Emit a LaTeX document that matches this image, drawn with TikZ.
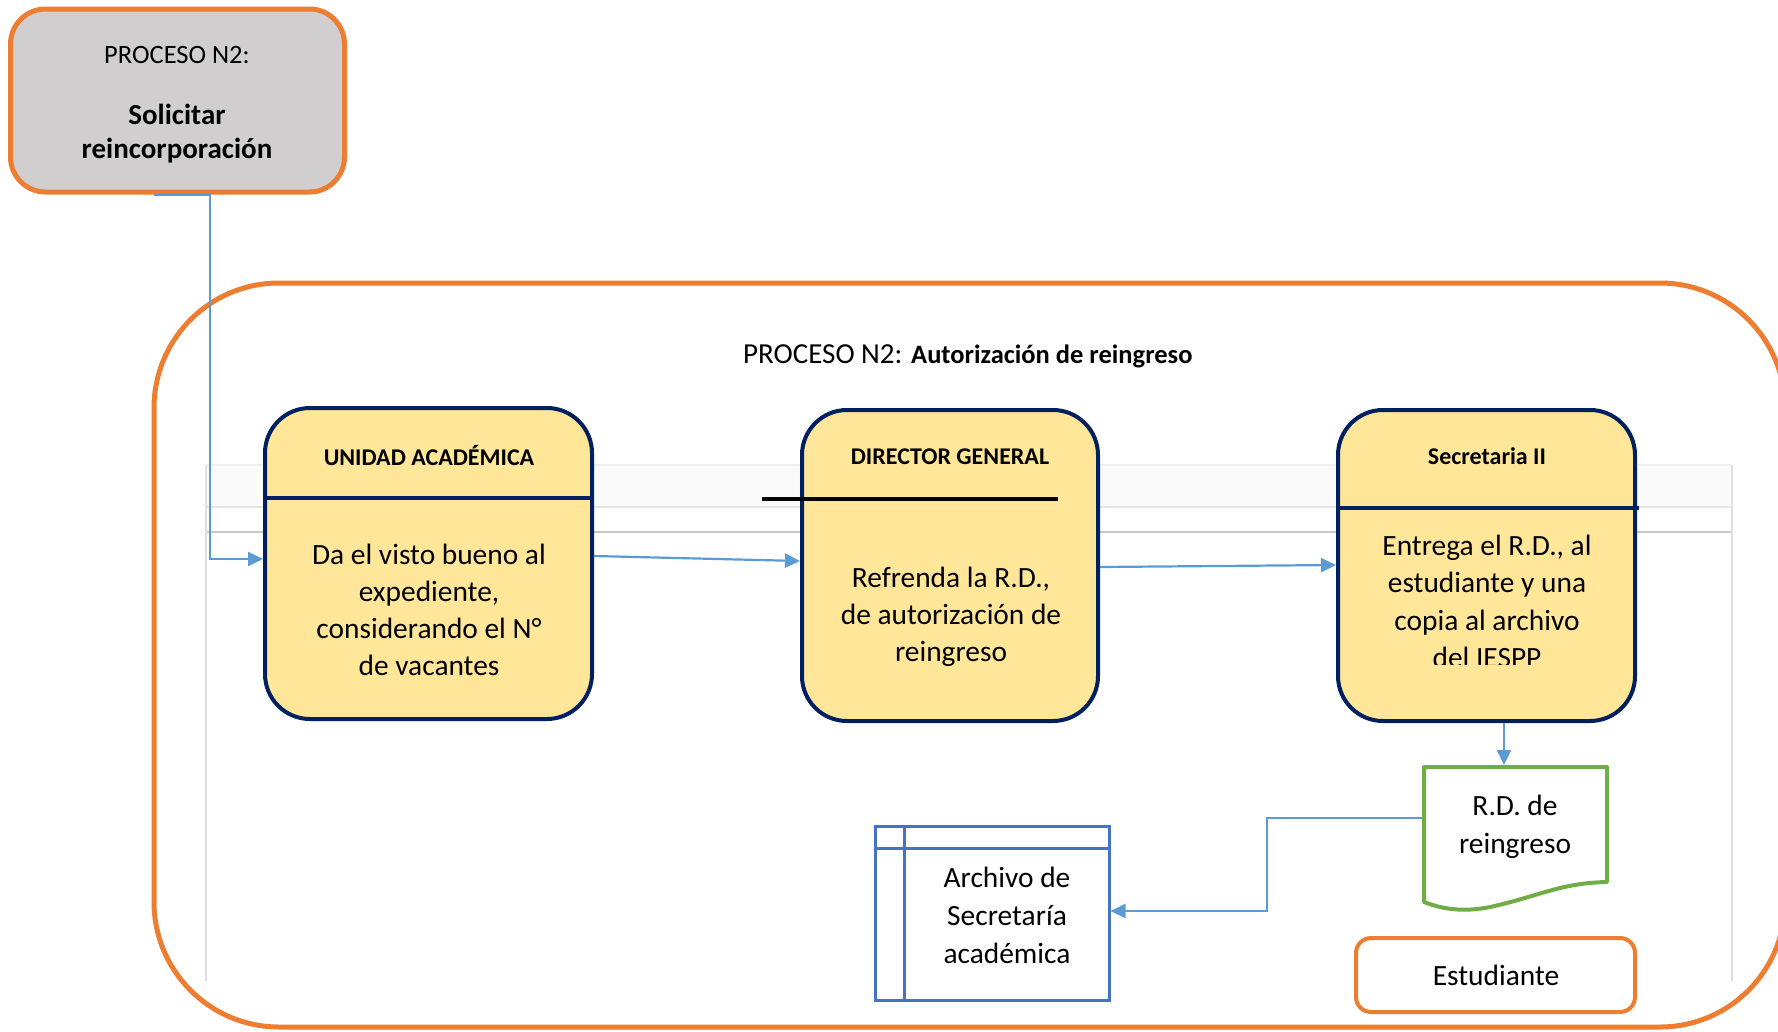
\documentclass[tikz,border=0pt]{standalone}
\usepackage{fontspec}
\setmainfont{Carlito}
\usetikzlibrary{arrows.meta}

\definecolor{procorange}{HTML}{ED7D31}
\definecolor{procgray}{HTML}{D0CECE}
\definecolor{unitfill}{HTML}{FFE699}
\definecolor{unitline}{HTML}{002060}
\definecolor{flowblue}{HTML}{5B9BD5}
\definecolor{storeblue}{HTML}{4472C4}
\definecolor{docgreen}{HTML}{70AD47}

\begin{document}
\begin{tikzpicture}[
  x=1pt, y=-1pt,
  unitbox/.style={draw=unitline, fill=unitfill, line width=4pt, rounded corners=45pt, inner sep=0pt},
  flow/.style={draw=flowblue, line width=2.2pt, -{Triangle[length=15pt,width=14pt]}},
  lane/.style={draw=black!12, line width=1.3pt},
  body/.style={font=\fontsize{29.4}{37}\selectfont, align=center, anchor=base, inner sep=0pt},
  head/.style={font=\bfseries\fontsize{24}{28}\selectfont, anchor=base, inner sep=0pt},
]
\useasboundingbox (0,0) rectangle (1778,1031);

% outer process frame, running past the right edge
\begin{scope}
  \clip (0,0) rectangle (1778,1031);
  \draw[procorange, line width=5pt, rounded corners=125pt] (154,283) rectangle (1785,1027);
\end{scope}

% faint swimlane guides
\fill[black!2] (206,465) rectangle (1732,507);
\draw[lane, draw=black!6] (206,465) -- (1732,465);
\draw[lane, draw=black!10] (206,507) -- (1732,507);
\draw[lane, draw=black!22] (206,532) -- (1732,532);
\draw[lane] (206,465) -- (206,981);
\draw[lane] (1732,465) -- (1732,981);

% preceding process
\node[draw=procorange, fill=procgray, line width=5pt, rounded corners=35pt,
      minimum width=334pt, minimum height=183pt, inner sep=0pt] (top) at (177.5,100.5) {};
\node[font=\fontsize{26.5}{30}\selectfont, anchor=base, inner sep=0pt] (toplabel) at (177,63) {PROCESO N2:};
\node[font=\bfseries\fontsize{29}{34}\selectfont, align=center, anchor=base, inner sep=0pt] (toptitle) at (177,158)
  {Solicitar\\reincorporación};

% process title
\node[font=\fontsize{29}{34}\selectfont, anchor=base west, inner sep=0pt] (title) at (743,363)
  {PROCESO N2: {\bfseries\fontsize{26.5}{34}\selectfont Autorización de reingreso}};

% responsible units
\node[unitbox, minimum width=327pt, minimum height=311pt] (ua) at (428.5,563.5) {};
\node[unitbox, minimum width=296pt, minimum height=311pt] (dg) at (950,565.5) {};
\node[unitbox, minimum width=297pt, minimum height=311pt] (sec) at (1486.5,565.5) {};

\draw[unitline, line width=4pt] (265,498) -- (592,498);
\draw[black, line width=3.5pt] (762,499) -- (1058,499);
\draw[unitline, line width=4pt] (1337,508) -- (1639,508);

\node[head] (uahead) at (429,465) {UNIDAD ACADÉMICA};
\node[head] (dghead) at (950,464) {DIRECTOR GENERAL};
\node[head] (sechead) at (1487,464) {Secretaria II};

% multi-line texts are anchored on the baseline of their last line
\node[body] (uatext) at (429,675)
  {Da el visto bueno al\\expediente,\\considerando el N°\\de vacantes};
\node[body] (dgtext) at (951,661)
  {Refrenda la R.D.,\\de autorización de\\reingreso};
\begin{scope}
  \clip (1338,400) rectangle (1635,664);
  \node[body, font=\fontsize{29.4}{37.5}\selectfont] (sectext) at (1487,667.5)
    {Entrega el R.D., al\\estudiante y una\\copia al archivo\\del IESPP};
\end{scope}

% document produced
\draw[docgreen, line width=4pt, line join=round, fill=white]
  (1424,767) -- (1607,767) -- (1607,882)
  .. controls (1560,883) and (1540,896) .. (1490,907)
  .. controls (1465,912) and (1445,910) .. (1424,902) -- cycle;
\node[minimum width=183pt, minimum height=135pt, inner sep=0pt, outer sep=2pt] (rd) at (1515.5,834.5) {};
\node[body, font=\fontsize{29.4}{38}\selectfont] (rdtext) at (1515,853) {R.D. de\\reingreso};

% archive store
\node[draw=storeblue, line width=3pt, minimum width=234pt, minimum height=174pt, inner sep=0pt] (ar) at (992,913) {};
\draw[storeblue, line width=3pt] (904,826) -- (904,1000);
\draw[storeblue, line width=3pt] (875,848) -- (1109,848);
\node[body, font=\fontsize{29.4}{38}\selectfont] (artext) at (1007,963) {Archivo de\\Secretaría\\académica};

% recipient
\node[draw=procorange, fill=white, line width=4pt, rounded corners=15pt,
      minimum width=279pt, minimum height=74pt, inner sep=0pt] (est) at (1495.5,975) {};
\node[body] (esttext) at (1496,985) {Estudiante};

% flow connectors
\coordinate (tb) at (210,0);
\coordinate (bx) at (1267,0);
\draw[flow] ([xshift=-23.5pt]top.south) -- (top.south -| tb) |- ([yshift=4.5pt]ua.west);
\draw[flow] ([yshift=7.5pt]ua.east) -- ([yshift=4.5pt]dg.west);
\draw[flow] ([yshift=-1.5pt]dg.east) -- ([yshift=0.5pt]sec.west);
\draw[flow] ([xshift=17.5pt]sec.south) -- ([xshift=17.5pt]sec.south |- rd.north);
\draw[flow] ([yshift=16.5pt]rd.west) -| ([yshift=2pt]ar.east -| bx) -- ([yshift=2pt]ar.east);
\end{tikzpicture}
\end{document}
